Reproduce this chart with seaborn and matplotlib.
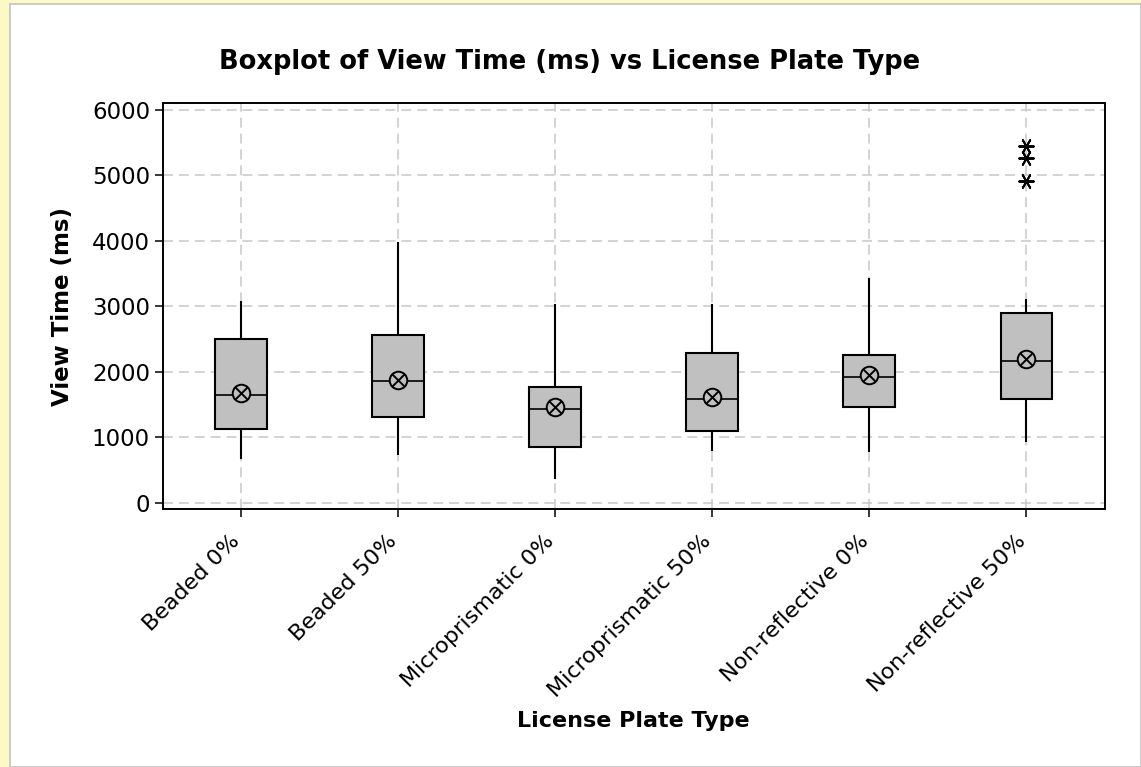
import matplotlib
matplotlib.use("Agg")
import matplotlib.pyplot as plt
from matplotlib.patches import Rectangle
import pandas as pd
import seaborn as sns

# Five-number summaries of view time (ms) per licence plate type
plate_types = ["Beaded 0%", "Beaded 50%", "Microprismatic 0%",
               "Microprismatic 50%", "Non-reflective 0%", "Non-reflective 50%"]
whisker_low = [661, 726, 355, 792, 768, 920]
q1 = [1119, 1303, 853, 1093, 1465, 1583]
median = [1648, 1853, 1434, 1587, 1924, 2168]
q3 = [2505, 2557, 1761, 2291, 2255, 2902]
whisker_high = [3081, 3988, 3035, 3035, 3437, 3107]
means = [1670, 1875, 1455, 1610, 1945, 2190]

# Unusual observations
outlier_type = ["Non-reflective 50%", "Non-reflective 50%", "Non-reflective 50%"]
outlier_ms = [5450, 5260, 4910]

y_ticks = [0, 1000, 2000, 3000, 4000, 5000, 6000]

rows = []
for i, t in enumerate(plate_types):
    for v in (whisker_low[i], q1[i], median[i], q3[i], whisker_high[i]):
        rows.append({"plate": t, "ms": v})
summary = pd.DataFrame(rows)

sns.set_style("white")
plt.rcParams["font.family"] = ["DejaVu Sans"]
plt.rcParams["text.color"] = "black"
plt.rcParams["axes.labelcolor"] = "black"

W, H = 1141, 767
fig = plt.figure(figsize=(W / 100, H / 100), dpi=100, facecolor="#fdf9c4")
# white chart panel inside the yellow frame
fig.patches.append(Rectangle((10 / W, 0), 1 - 10 / W, 1 - 4 / H,
                             transform=fig.transFigure, facecolor="white",
                             edgecolor="#c4c4c4", linewidth=1.2, zorder=-10))

ax = fig.add_axes([162.5 / W, 1 - 509 / H, (1105 - 162.5) / W, (509 - 103) / H])
ax.set_facecolor("white")

sns.boxplot(data=summary, x="plate", y="ms", order=plate_types, ax=ax,
            whis=(0, 100), width=0.33, color="#c0c0c0", saturation=1,
            linecolor="black", linewidth=1.5, showcaps=False, showfliers=False,
            medianprops={"linewidth": 1.2, "color": "black"},
            zorder=3)

# mean symbols: circle with a cross
sns.scatterplot(x=plate_types, y=means, ax=ax, marker="o", s=160,
                color="#c0c0c0", edgecolor="black", linewidth=1.4, zorder=5)
sns.scatterplot(x=plate_types, y=means, ax=ax, marker="x", s=85,
                color="black", edgecolor="black", linewidth=1.4, zorder=6)

# outliers as asterisks
sns.scatterplot(x=outlier_type, y=outlier_ms, ax=ax, marker=(6, 2, 90), s=110,
                color="black", edgecolor="black", linewidth=1.4, zorder=6)

ax.set_xlim(-0.5, 5.5)
ax.set_ylim(-99, 6108)
ax.set_yticks(y_ticks)
ax.set_yticklabels([str(v) for v in y_ticks])
ax.set_xticks(range(len(plate_types)))
ax.set_xticklabels(plate_types, rotation=45, ha="right", va="baseline",
                   rotation_mode="anchor")

ax.grid(True, color="#c8c8c8", linestyle=(0, (6.5, 3.9)), linewidth=1.1, zorder=0)
ax.set_axisbelow(True)

for s in ax.spines.values():
    s.set_visible(True)
    s.set_color("black")
    s.set_linewidth(1.4)

ax.tick_params(axis="both", direction="out", length=6, width=1.1,
               color="black", labelcolor="black", bottom=True, left=True)
ax.tick_params(axis="y", pad=3, labelsize=16.5)
ax.tick_params(axis="x", pad=18, labelsize=16)

ax.set_xlabel("License Plate Type", fontsize=16, fontweight="bold")
ax.xaxis.set_label_coords(0.5, -0.497)
ax.set_ylabel("View Time (ms)", fontsize=16.5, fontweight="bold", labelpad=13)
fig.text(570 / W, 1 - 62 / H, "Boxplot of View Time (ms) vs License Plate Type",
         ha="center", va="center", fontsize=18.5, fontweight="bold")

fig.savefig("out.png", dpi=100)
